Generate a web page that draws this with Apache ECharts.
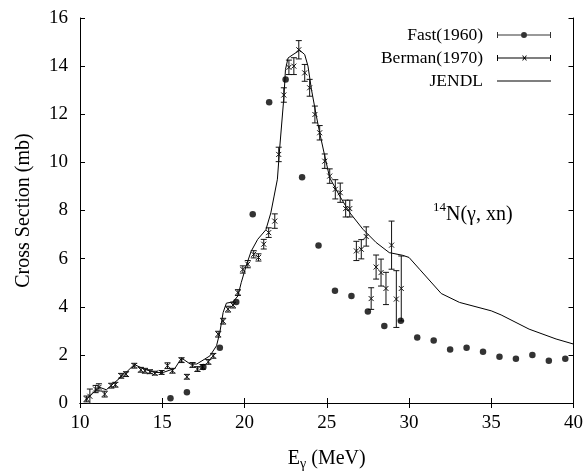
<!DOCTYPE html>
<html><head><meta charset="utf-8">
<script src="https://cdn.jsdelivr.net/npm/echarts@6/dist/echarts.min.js"></script>
<style>html,body{margin:0;padding:0;background:#fff}#c{width:586px;height:476px}</style>
</head><body><div id="c"></div>
<script>
const xTicks = [10, 15, 20, 25, 30, 35, 40];
const yTicks = [0, 2, 4, 6, 8, 10, 12, 14, 16];
// Fast(1960): [E, sigma]
const fast1960 = [[15.5,0.2],[16.5,0.45],[17.5,1.5],[18.5,2.3],[19.5,4.2],[20.5,7.84],[21.5,12.5],[22.5,13.44],[23.5,9.38],[24.5,6.55],[25.5,4.66],[26.5,4.45],[27.5,3.8],[28.5,3.2],[29.5,3.42],[30.5,2.72],[31.5,2.6],[32.5,2.22],[33.5,2.3],[34.5,2.13],[35.5,1.92],[36.5,1.84],[37.5,1.99],[38.5,1.76],[39.5,1.84]];
// Berman(1970): [E, sigma, error]
const berman1970 = [[10.4,0.17,0.12],[10.6,0.28,0.3],[10.95,0.58,0.15],[11.15,0.65,0.15],[11.5,0.37,0.12],[11.9,0.72,0.1],[12.15,0.76,0.1],[12.5,1.13,0.1],[12.8,1.2,0.1],[13.3,1.55,0.1],[13.7,1.38,0.1],[13.95,1.34,0.1],[14.25,1.3,0.08],[14.55,1.24,0.08],[14.96,1.27,0.08],[15.32,1.55,0.12],[15.62,1.34,0.1],[16.17,1.78,0.1],[16.5,1.09,0.1],[16.84,1.58,0.1],[17.14,1.41,0.1],[17.45,1.5,0.1],[17.8,1.71,0.1],[18.1,1.96,0.1],[18.4,2.86,0.12],[18.7,3.4,0.12],[19.0,3.9,0.12],[19.3,4.07,0.12],[19.6,4.59,0.12],[19.9,5.55,0.15],[20.2,5.77,0.15],[20.56,6.18,0.15],[20.85,6.05,0.15],[21.17,6.6,0.2],[21.47,7.08,0.2],[21.84,7.56,0.3],[22.08,10.33,0.3],[22.39,12.8,0.3],[22.7,13.95,0.3],[23.0,14.0,0.35],[23.3,14.68,0.38],[23.66,13.72,0.35],[23.96,13.1,0.35],[24.28,11.99,0.35],[24.57,11.23,0.3],[24.88,10.05,0.3],[25.18,9.43,0.3],[25.52,8.88,0.4],[25.82,8.74,0.4],[26.15,8.08,0.35],[26.4,8.08,0.35],[26.8,6.32,0.4],[27.1,6.39,0.4],[27.4,6.92,0.4],[27.7,4.34,0.45],[28.0,5.65,0.5],[28.3,5.42,0.56],[28.6,4.76,0.67],[28.94,6.56,1.0],[29.23,4.32,1.18],[29.53,4.76,1.35]];
// JENDL evaluation curve
const jendl = [[10.3,0.1],[10.7,0.37],[11.2,0.65],[11.6,0.55],[12.0,0.79],[12.7,1.2],[13.3,1.6],[13.9,1.41],[14.55,1.27],[15.06,1.27],[15.77,1.44],[16.17,1.87],[16.7,1.62],[17.1,1.62],[17.9,1.96],[18.3,2.38],[18.5,2.93],[18.7,3.76],[18.9,4.15],[19.3,4.2],[19.6,4.45],[19.8,5.0],[20.1,5.7],[20.4,6.3],[20.8,6.8],[21.3,7.2],[21.6,7.9],[21.8,8.6],[22.0,9.3],[22.14,10.6],[22.4,12.75],[22.49,13.86],[22.65,14.34],[22.95,14.48],[23.36,14.66],[23.66,14.48],[23.86,14.0],[24.07,13.03],[24.37,11.92],[24.57,11.23],[24.88,10.26],[25.18,9.36],[25.79,8.6],[26.4,7.91],[27.2,7.22],[28.0,6.67],[28.8,6.25],[29.6,6.14],[30.0,6.05],[30.64,5.56],[31.96,4.55],[33.07,4.18],[35.0,3.83],[35.6,3.66],[37.3,3.07],[38.94,2.66],[40,2.45]];
const seriesNames = ['Fast(1960)', 'Berman(1970)', 'JENDL'];
const annotation = ['14', 'N(γ, xn)'];

const FONT = 'Liberation Serif';
const iconFast = 'path://M0,3.5H24V4.5H0Z M30,3.5H54V4.5H30Z M0,1H1V7H0Z M53,1H54V7H53Z M24,4a3,3 0 1,1 6,0a3,3 0 1,1 -6,0Z';
const iconBerman = 'path://M0,3.5H54V4.5H0Z M0,1H1V7H0Z M53,1H54V7H53Z M25,1.5L26,1.5L30,6.5L29,6.5Z M29,1.5L30,1.5L26,6.5L25,6.5Z';
const iconLine = 'path://M0,3.5H54V4.5H0Z M0,1H0.01V7H0Z';

const chart = echarts.init(document.getElementById('c'), null, {renderer:'canvas'});
const axisCommon = {
  axisLine: {show: true, lineStyle: {color: '#000', width: 1}},
  axisTick: {show: true, inside: true, length: 5, lineStyle: {color: '#000'}},
  splitLine: {show: false},
};
const xa = (pos, showLabel) => Object.assign({}, axisCommon, {
  type: 'value', position: pos, min: xTicks[0], max: xTicks[xTicks.length-1], interval: xTicks[1]-xTicks[0],
  axisLabel: {show: showLabel, color: '#000', fontFamily: FONT, fontSize: 19, margin: 11},
});
const ya = (pos, showLabel) => Object.assign({}, axisCommon, {
  type: 'value', position: pos, min: yTicks[0], max: yTicks[yTicks.length-1], interval: yTicks[1]-yTicks[0],
  axisLabel: {show: showLabel, color: '#000', fontFamily: FONT, fontSize: 19, margin: 12},
});
const xBottom = xa('bottom', true);
xBottom.name = '{a|E}{b|γ}{a| (MeV)}';
xBottom.nameLocation = 'middle';
xBottom.nameGap = 44;
xBottom.nameTextStyle = {color:'#000', fontFamily: FONT, fontSize: 20, rich: {a:{fontFamily:FONT,fontSize:20,color:'#000',lineHeight:24,verticalAlign:'middle'}, b:{fontFamily:FONT,fontSize:14,color:'#000',lineHeight:14,verticalAlign:'bottom'}}};
const yLeft = ya('left', true);
yLeft.name = 'Cross Section (mb)';
yLeft.nameLocation = 'middle';
yLeft.nameGap = 46;
yLeft.nameTextStyle = {color:'#000', fontFamily: FONT, fontSize: 20};

chart.setOption({
  animation: false,
  backgroundColor: '#fff',
  grid: {left: 80, right: 12, top: 18, bottom: 72},
  xAxis: [xBottom, xa('top', false)],
  yAxis: [yLeft, ya('right', false)],
  legend: {
    orient: 'vertical', right: 35, top: 26, align: 'right',
    itemWidth: 54, itemHeight: 8, itemGap: 5, padding: 0,
    selectedMode: false,
    textStyle: {color:'#000', fontFamily: FONT, fontSize: 17.5, padding: [0, 9, 0, 0]},
    data: [
      {name: seriesNames[0], icon: iconFast, itemStyle:{color:'#000'}},
      {name: seriesNames[1], icon: iconBerman, itemStyle:{color:'#000'}},
      {name: seriesNames[2], icon: iconLine, itemStyle:{color:'#000'}}
    ]
  },
  graphic: [{
    type: 'text', left: 433, top: 201, silent: true,
    style: {
      text: '{s|' + annotation[0] + '}{n|' + annotation[1] + '}',
      rich: {
        s: {fontFamily: FONT, fontSize: 13, fill:'#000', verticalAlign: 'top', lineHeight: 13},
        n: {fontFamily: FONT, fontSize: 20, fill:'#000', lineHeight: 24, verticalAlign: 'bottom'}
      }
    }
  }],
  series: [
    {
      name: seriesNames[2], type: 'line', data: jendl, showSymbol: false, symbol: 'none',
      lineStyle: {color: '#000', width: 1}, itemStyle: {color: '#000'}, z: 2, smooth: false
    },
    {
      name: seriesNames[1], type: 'custom', data: berman1970, itemStyle: {color: '#000'}, z: 3,
      encode: {x: 0, y: 1},
      renderItem: function(params, api) {
        const x = api.value(0), y = api.value(1), e = api.value(2);
        const p = api.coord([x, y]);
        const hi = api.coord([x, y + e]);
        const lo = api.coord([x, y - e]);
        const cw = 3, m = 2.5;
        const st = {stroke: '#111', lineWidth: 1, fill: null};
        return {type: 'group', children: [
          {type:'line', shape:{x1:p[0], y1:hi[1], x2:p[0], y2:lo[1]}, style: st},
          {type:'line', shape:{x1:p[0]-cw, y1:hi[1], x2:p[0]+cw, y2:hi[1]}, style: st},
          {type:'line', shape:{x1:p[0]-cw, y1:lo[1], x2:p[0]+cw, y2:lo[1]}, style: st},
          {type:'line', shape:{x1:p[0]-m, y1:p[1]-m, x2:p[0]+m, y2:p[1]+m}, style: st},
          {type:'line', shape:{x1:p[0]-m, y1:p[1]+m, x2:p[0]+m, y2:p[1]-m}, style: st}
        ]};
      }
    },
    {
      name: seriesNames[0], type: 'scatter', data: fast1960, symbol: 'circle', symbolSize: 6.5,
      itemStyle: {color: '#000'}, z: 4
    }
  ]
});
</script></body></html>
